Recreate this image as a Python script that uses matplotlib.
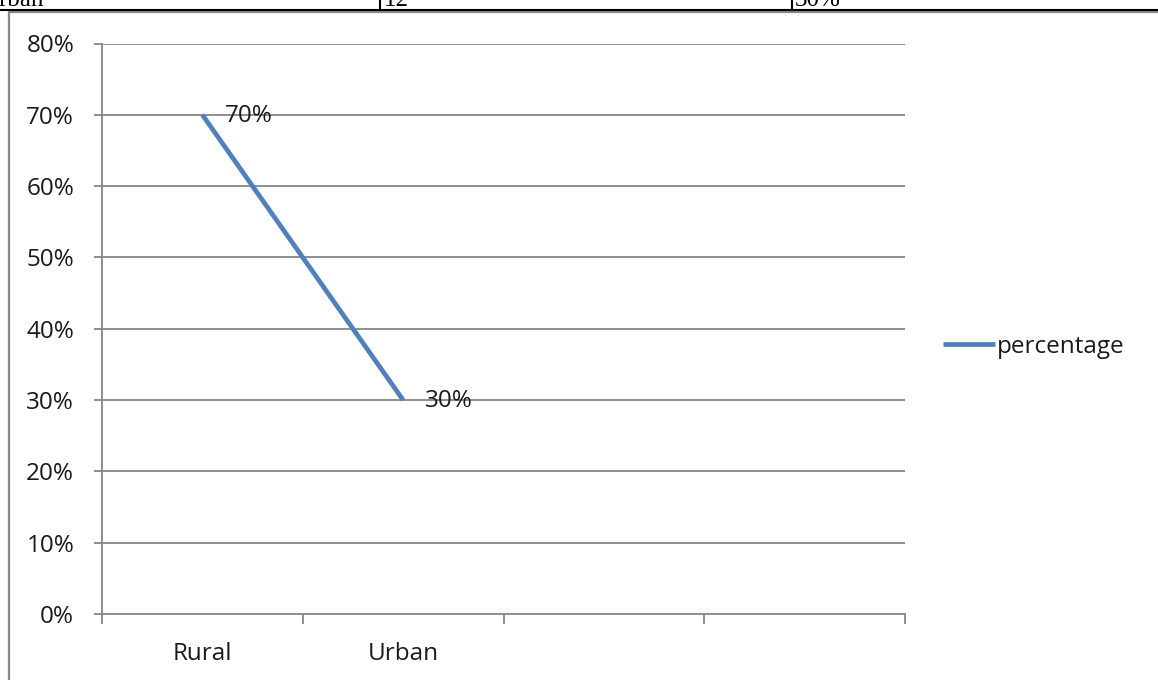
import matplotlib
matplotlib.use("Agg")
import matplotlib.pyplot as plt
from matplotlib.lines import Line2D
from matplotlib.patches import Rectangle
from matplotlib.ticker import FixedLocator, NullFormatter

# Data
categories = ["Rural", "Urban", "", ""]
series_name = "percentage"
values = [0.70, 0.30]
value_labels = ["70%", "30%"]
y_ticks = [0.0, 0.1, 0.2, 0.3, 0.4, 0.5, 0.6, 0.7, 0.8]
y_tick_labels = ["0%", "10%", "20%", "30%", "40%", "50%", "60%", "70%", "80%"]
table_row = ["Urban", "12", "30%"]

W, H = 1158, 680
LINE_BLUE = "#4F81BD"
GRID = "#868686"
TEXT = "#1a1a1a"
FONT = "Open Sans"
FS = 17.5

fig = plt.figure(figsize=(W / 100, H / 100), dpi=100)
fig.patch.set_facecolor("white")

def fx(px):
    return px / W

def fy(py):
    return 1 - py / H

# Table row cut off at the top of the page
fig.add_artist(Line2D([0, 1], [fy(9.5), fy(9.5)], color="black", lw=1.5,
                      transform=fig.transFigure))
for xv in (380, 792):
    fig.add_artist(Line2D([fx(xv), fx(xv)], [fy(9.5), 1.0], color="black",
                          lw=1.5, transform=fig.transFigure))
fig.text(fx(44), fy(6), table_row[0], ha="right", va="baseline",
         family="Liberation Serif", fontsize=18, color="black")
fig.text(fx(384), fy(6), table_row[1], ha="left", va="baseline",
         family="Liberation Serif", fontsize=18, color="black")
fig.text(fx(795), fy(6), table_row[2], ha="left", va="baseline",
         family="Liberation Serif", fontsize=18, color="black")

# Chart frame (extends past the right and bottom edges)
fig.add_artist(Rectangle((fx(9), -0.1), 1.2, fy(12) + 0.1, fill=False,
                         edgecolor="#888888", lw=1.6,
                         transform=fig.transFigure))

left, right, top, bottom = 102, 905, 43.5, 614
ax = fig.add_axes([fx(left), fy(bottom), fx(right) - fx(left),
                   fy(top) - fy(bottom)])
ax.set_facecolor("none")

n = len(categories)
xpos = [i + 0.5 for i in range(n)]
ax.set_xlim(0, n)
ax.set_ylim(y_ticks[0], y_ticks[-1])

# Horizontal gridlines
for t in y_ticks[1:]:
    ax.axhline(t, color=GRID, lw=1.3, zorder=1)

line, = ax.plot(xpos[:len(values)], values, color=LINE_BLUE, lw=3.4,
                solid_capstyle="butt", zorder=3, label=series_name)

for x, v, lab in zip(xpos, values, value_labels):
    ax.annotate(lab, (x, v), xytext=(16, -1), textcoords="offset points",
                ha="left", va="center", family=FONT, fontsize=FS,
                color=TEXT, zorder=4)

for s in ("top", "right"):
    ax.spines[s].set_visible(False)
for s in ("left", "bottom"):
    ax.spines[s].set_color(GRID)
    ax.spines[s].set_linewidth(1.3)

ax.set_yticks(y_ticks)
ax.set_yticklabels(y_tick_labels, family=FONT, fontsize=FS, color=TEXT)
ax.tick_params(axis="y", direction="out", length=6, width=1.3, color=GRID,
               pad=14)

ax.xaxis.set_major_locator(FixedLocator(list(range(n + 1))))
ax.xaxis.set_major_formatter(NullFormatter())
ax.xaxis.set_minor_locator(FixedLocator(xpos))
ax.set_xticklabels(categories, minor=True, family=FONT, fontsize=FS,
                   color=TEXT)
ax.tick_params(axis="x", which="major", direction="out", length=7,
               width=1.3, color=GRID)
ax.tick_params(axis="x", which="minor", length=0, pad=20)

fig.legend(handles=[line], labels=[series_name], loc="center left",
           bbox_to_anchor=(fx(943), fy(347)), bbox_transform=fig.transFigure,
           frameon=False, borderpad=0, borderaxespad=0, handlelength=2.15,
           handletextpad=0.08, prop={"family": FONT, "size": FS},
           labelcolor=TEXT)

fig.savefig("out.png", dpi=100, facecolor="white")
